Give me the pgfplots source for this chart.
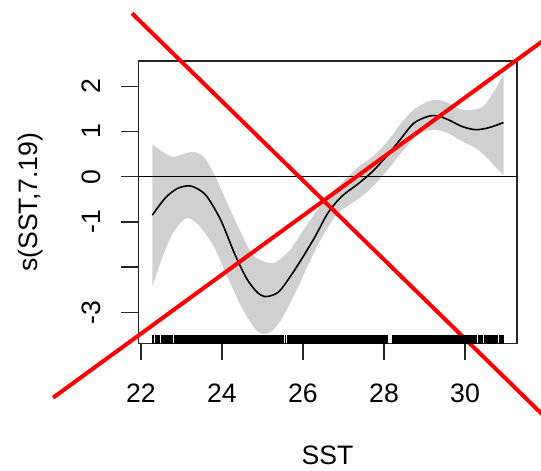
\documentclass[border=0pt]{standalone}
\usepackage{fontspec}
\setmainfont{Liberation Sans}
\usepackage{pgfplots}
\pgfplotsset{compat=1.18}
\usepgfplotslibrary{fillbetween}
\definecolor{shade}{RGB}{208,208,208}
\begin{document}
\begin{tikzpicture}
\begin{axis}[
  scale only axis,
  width=283.95pt, height=211.9pt,
  xmin=21.933, xmax=31.28, ymin=-3.69, ymax=2.56,
  clip=false,
  axis line style={line width=1pt, black!85},
  tick pos=left,
  tick align=outside,
  major tick length=12.6pt,
  tick style={line width=1pt, black!85},
  xtick={22,24,26,28,30},
  xticklabels={22,24,26,28,30},
  ytick={-3,-2,-1,0,1,2},
  yticklabels={-3,{},-1,0,1,2},
  every tick label/.append style={font=\fontsize{20}{24}\selectfont},
  xticklabel style={anchor=north, inner sep=0pt},
  xticklabel shift=17.25pt,
  yticklabel style={rotate=90, anchor=south, inner sep=0pt},
  yticklabel shift=15.2pt,
  xlabel={SST},
  ylabel={s(SST,7.19)},
  label style={font=\fontsize{20}{24}\selectfont},
  xlabel style={at={(axis description cs:0.5,-0.3945)}, anchor=center, inner sep=0pt},
  ylabel style={at={(axis description cs:-0.2853,0.5)}, anchor=center, inner sep=0pt},
]
% confidence band
\addplot[name path=U, draw=none, smooth] coordinates {
(22.28,0.72) (22.53,0.55) (22.78,0.44) (23.04,0.50) (23.29,0.55) (23.55,0.44)
(23.80,0.07) (24.06,-0.44) (24.40,-1.11) (24.74,-1.70) (25.08,-1.89) (25.33,-1.89)
(25.67,-1.63) (26.01,-1.18) (26.35,-0.74) (26.69,-0.37) (27.03,-0.07) (27.37,0.22)
(27.71,0.44) (28.05,0.74) (28.39,1.15) (28.73,1.48) (29.07,1.66) (29.33,1.70)
(29.59,1.63) (29.93,1.48) (30.18,1.48) (30.44,1.55) (30.69,1.85) (30.95,2.26)
};
\addplot[name path=L, draw=none, smooth] coordinates {
(22.28,-2.44) (22.53,-1.78) (22.78,-1.26) (23.04,-0.96) (23.20,-0.92) (23.46,-1.11)
(23.80,-1.55) (24.14,-2.22) (24.48,-2.88) (24.82,-3.37) (25.04,-3.48) (25.25,-3.40)
(25.50,-3.11) (25.84,-2.51) (26.18,-1.85) (26.52,-1.26) (26.86,-0.81) (27.20,-0.59)
(27.54,-0.37) (27.88,-0.07) (28.22,0.30) (28.56,0.67) (28.90,0.96) (29.24,1.04)
(29.59,0.96) (29.93,0.78) (30.27,0.63) (30.52,0.44) (30.78,0.18) (30.95,0.04)
};
\addplot[fill=shade, draw=none] fill between[of=U and L];
% zero line
\addplot[black, line width=1pt] coordinates {(21.933,0) (31.28,0)};
% fitted smooth
\addplot[black, line width=1.2pt, smooth] coordinates {
(22.28,-0.85) (22.60,-0.47) (22.90,-0.26) (23.19,-0.20) (23.40,-0.27) (23.63,-0.44)
(23.97,-0.96) (24.31,-1.70) (24.60,-2.24) (24.85,-2.54) (25.05,-2.65) (25.25,-2.62)
(25.45,-2.50) (25.84,-2.00) (26.27,-1.37) (26.61,-0.81) (26.95,-0.44) (27.37,-0.15)
(27.71,0.11) (28.05,0.44) (28.39,0.81) (28.73,1.18) (29.07,1.33) (29.29,1.35)
(29.59,1.26) (29.93,1.11) (30.27,1.04) (30.61,1.09) (30.95,1.20)
};
% rug
\addplot[only marks, mark=|, mark size=3.2pt, mark options={line width=1.3pt, black}] table[y expr=-3.596] {
x
22.30
22.36
22.40
22.45
22.52
22.56
22.60
22.64
22.70
22.73
22.77
22.84
22.88
22.92
22.95
22.98
23.02
23.06
23.10
23.13
23.17
23.21
23.25
23.29
23.33
23.37
23.41
23.45
23.49
23.53
23.57
23.60
23.65
23.70
23.74
23.78
23.82
23.87
23.91
23.95
23.99
24.03
24.08
24.12
24.16
24.20
24.24
24.28
24.33
24.37
24.41
24.45
24.49
24.53
24.57
24.61
24.65
24.69
24.72
24.76
24.80
24.84
24.88
24.92
24.96
25.00
25.04
25.08
25.12
25.16
25.20
25.24
25.28
25.33
25.38
25.43
25.48
25.52
25.57
25.62
25.66
25.70
25.75
25.80
25.84
25.88
25.93
25.97
26.01
26.05
26.09
26.13
26.17
26.21
26.25
26.29
26.33
26.37
26.41
26.45
26.49
26.53
26.57
26.61
26.65
26.69
26.73
26.77
26.81
26.85
26.89
26.93
26.97
27.01
27.05
27.09
27.13
27.17
27.21
27.25
27.29
27.33
27.37
27.41
27.45
27.49
27.53
27.57
27.61
27.65
27.69
27.73
27.77
27.81
27.85
27.89
27.93
27.97
28.01
28.05
28.08
28.22
28.26
28.30
28.34
28.38
28.42
28.46
28.50
28.54
28.58
28.62
28.66
28.70
28.74
28.78
28.82
28.86
28.90
28.94
28.98
29.02
29.06
29.10
29.14
29.18
29.22
29.26
29.30
29.34
29.38
29.42
29.46
29.50
29.54
29.58
29.62
29.66
29.70
29.74
29.78
29.82
29.86
29.90
29.94
29.98
30.02
30.06
30.10
30.14
30.18
30.23
30.28
30.33
30.37
30.42
30.48
30.52
30.57
30.62
30.66
30.72
30.76
30.80
30.86
30.90
30.93
30.95
};
% red cross
\addplot[red, line width=3pt] coordinates {(21.778,3.615) (32.5,-5.776)};
\addplot[red, line width=3pt] coordinates {(19.829,-4.889) (32.5,3.382)};
\end{axis}
\pgfresetboundingbox
\path[use as bounding box] ([shift={(-103.7pt,-95.6pt)}]current axis.south west) rectangle ([shift={(18.1pt,45.75pt)}]current axis.north east);
\end{tikzpicture}
\end{document}
